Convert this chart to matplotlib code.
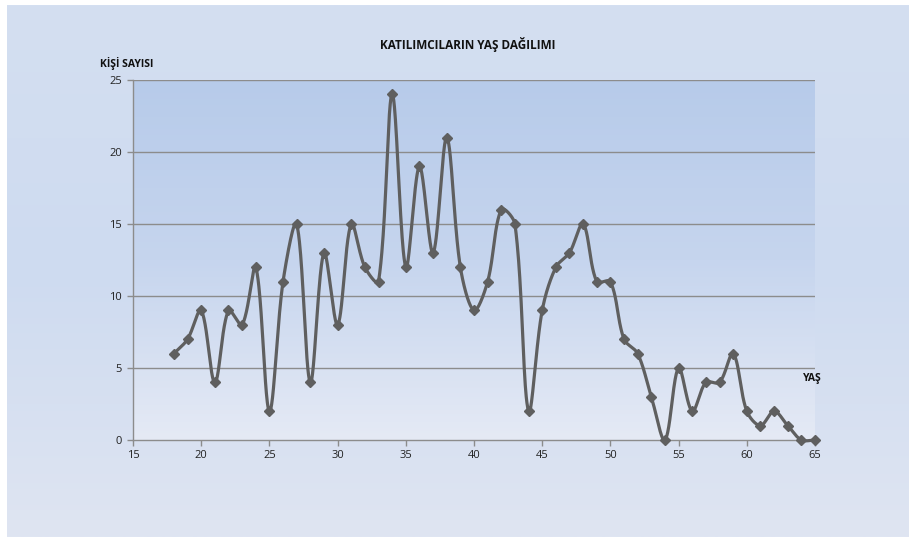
import numpy as np
import matplotlib
matplotlib.use("Agg")
import matplotlib.pyplot as plt
from matplotlib.colors import LinearSegmentedColormap

ages = list(range(18, 66))
counts = [6, 7, 9, 4, 9, 8, 12, 2, 11, 15, 4, 13, 8, 15, 12, 11, 24, 12, 19, 13,
          21, 12, 9, 11, 16, 15, 2, 9, 12, 13, 15, 11, 11, 7, 6, 3, 0, 5, 2, 4,
          4, 6, 2, 1, 2, 1, 0, 0]
title = "KATILIMCILARIN YAŞ DAĞILIMI"
ylabel = "KİŞİ SAYISI"
xlabel = "YAŞ"
xticks = [15, 20, 25, 30, 35, 40, 45, 50, 55, 60, 65]
yticks = [0, 5, 10, 15, 20, 25]

plt.rcParams['font.family'] = ['Open Sans', 'DejaVu Sans']

W, H = 909, 537
fig = plt.figure(figsize=(W / 100, H / 100), dpi=100)
fig.patch.set_facecolor('white')

# figure background gradient
bg = fig.add_axes([7 / W, 0, 1 - 7 / W, 1 - 5 / H], zorder=-10)
bg_cmap = LinearSegmentedColormap.from_list('bg', ['#d4dff1', '#cedbf0', '#dfe5f2'])
bg.imshow(np.linspace(0, 1, 256).reshape(-1, 1), aspect='auto', cmap=bg_cmap,
          extent=[0, 1, 0, 1], origin='upper')
bg.axis('off')

# plot area
left, right, top, bottom = 133, 815, 80, 440
ax = fig.add_axes([left / W, 1 - bottom / H, (right - left) / W, (bottom - top) / H])
ax.set_xlim(15, 65)
ax.set_ylim(0, 25)
pa_cmap = LinearSegmentedColormap.from_list('pa', ['#b7cbea', '#c6d5ee', '#e5eaf5'])
ax.imshow(np.linspace(0, 1, 256).reshape(-1, 1), aspect='auto', cmap=pa_cmap,
          extent=[15, 65, 0, 25], origin='upper', zorder=0)
ax.set_facecolor('none')

# smoothed curve (spreadsheet-style Bezier smoothing, in pixel space)
sx = (right - left) / 50.0
sy = (bottom - top) / 25.0
x = np.array(ages, dtype=float)
y = np.array(counts, dtype=float)
P = np.column_stack([x * sx, y * sy])
n = len(P)


def dist(a, b):
    return np.hypot(*(a - b))


xs, ys = [], []
t = np.linspace(0, 1, 40)
for i in range(n - 1):
    p0 = P[max(i - 1, 0)]
    p1 = P[i]
    p2 = P[i + 1]
    p3 = P[min(i + 2, n - 1)]
    d01, d12, d23 = dist(p0, p1), dist(p1, p2), dist(p2, p3)
    f1 = d12 / (d01 + d12) if d01 + d12 > 0 else 0.5
    f2 = d12 / (d12 + d23) if d12 + d23 > 0 else 0.5
    c1 = p1 + (p2 - p0) * f1 / 3.0
    c2 = p2 - (p3 - p1) * f2 / 3.0
    b = ((1 - t) ** 3)[:, None] * p1 + (3 * (1 - t) ** 2 * t)[:, None] * c1 \
        + (3 * (1 - t) * t ** 2)[:, None] * c2 + (t ** 3)[:, None] * p2
    xs.extend(b[:, 0] / sx)
    ys.extend(b[:, 1] / sy)

for yt in yticks[1:]:
    ax.axhline(yt, color='#8c8c8c', lw=1.0, zorder=1)

ax.plot(xs, ys, color='#5f5f5f', lw=2.3, zorder=3, clip_on=False,
        solid_capstyle='round')
ax.plot(x, y, linestyle='none', marker='D', markersize=5, color='#5f5f5f',
        zorder=4, clip_on=False)

for s in ['top', 'right']:
    ax.spines[s].set_visible(False)
for s in ['left', 'bottom']:
    ax.spines[s].set_color('#8c8c8c')
    ax.spines[s].set_linewidth(1.0)
ax.set_xticks(xticks)
ax.set_yticks(yticks)
ax.tick_params(axis='both', colors='#8c8c8c', labelcolor='#222222',
               labelsize=8, length=4, width=1.0, direction='out')
ax.tick_params(axis='x', pad=3)
ax.tick_params(axis='y', pad=4)

fig.text(468 / W, 1 - 45 / H, title, ha='center', va='center',
         fontsize=8.5, fontweight='bold', color='#111111')
fig.text(100 / W, 1 - 63 / H, ylabel, ha='left', va='center',
         fontsize=7.5, fontweight='bold', color='#111111')
fig.text(812 / W, 1 - 378 / H, xlabel, ha='center', va='center',
         fontsize=7.5, fontweight='bold', color='#111111')

fig.savefig('out.png', dpi=100)
